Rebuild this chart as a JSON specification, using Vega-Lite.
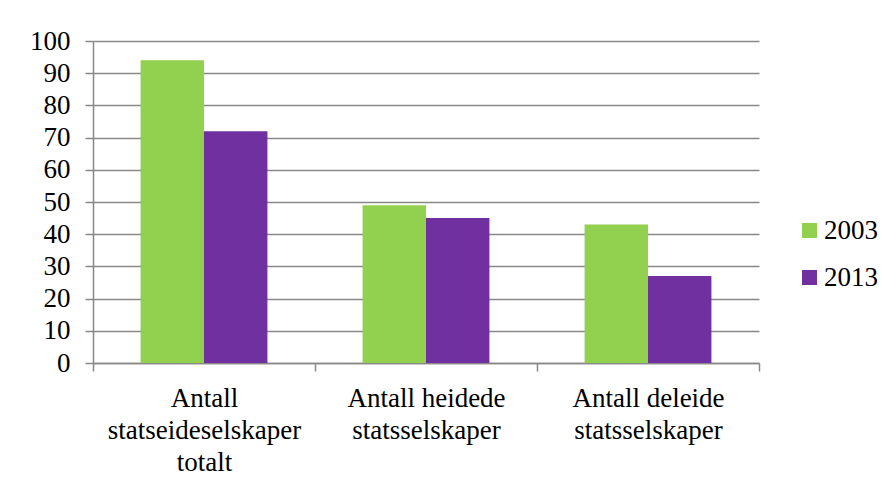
{
  "$schema": "https://vega.github.io/schema/vega-lite/v6.json",
  "width": 666,
  "height": 322,
  "autosize": {"type": "none"},
  "padding": {"left": 93, "top": 41, "right": 137, "bottom": 121},
  "background": "white",
  "config": {
    "view": {"stroke": null},
    "font": "Liberation Serif",
    "axis": {
      "domainColor": "#888888",
      "domainWidth": 1.5,
      "tickColor": "#888888",
      "tickWidth": 1.5,
      "gridColor": "#888888",
      "gridWidth": 1.5,
      "labelFont": "Liberation Serif",
      "labelFontSize": 27,
      "labelColor": "#000000"
    }
  },
  "data": {
    "values": [
      {"kategori": "Antall statseideselskaper totalt", "aar": "2003", "antall": 94},
      {"kategori": "Antall statseideselskaper totalt", "aar": "2013", "antall": 72},
      {"kategori": "Antall heidede statsselskaper", "aar": "2003", "antall": 49},
      {"kategori": "Antall heidede statsselskaper", "aar": "2013", "antall": 45},
      {"kategori": "Antall deleide statsselskaper", "aar": "2003", "antall": 43},
      {"kategori": "Antall deleide statsselskaper", "aar": "2013", "antall": 27}
    ]
  },
  "mark": {"type": "bar"},
  "encoding": {
    "x": {
      "field": "kategori",
      "type": "nominal",
      "sort": null,
      "scale": {"paddingInner": 0, "paddingOuter": 0},
      "axis": {
        "title": null,
        "labelAngle": 0,
        "tickBand": "extent",
        "tickSize": 8,
        "labelPadding": 14,
        "labelLimit": 400,
        "labelLineHeight": 32,
        "labelExpr": "datum.label == 'Antall statseideselskaper totalt' ? ['Antall', 'statseideselskaper', 'totalt'] : datum.label == 'Antall heidede statsselskaper' ? ['Antall heidede', 'statsselskaper'] : datum.label == 'Antall deleide statsselskaper' ? ['Antall deleide', 'statsselskaper'] : ''"
      }
    },
    "xOffset": {
      "field": "aar",
      "type": "nominal",
      "scale": {"paddingInner": 0, "paddingOuter": 0.75}
    },
    "y": {
      "field": "antall",
      "type": "quantitative",
      "scale": {"domain": [0, 100], "nice": false},
      "axis": {
        "title": null,
        "values": [0, 10, 20, 30, 40, 50, 60, 70, 80, 90, 100],
        "tickSize": 8,
        "labelPadding": 15,
        "grid": true
      }
    },
    "color": {
      "field": "aar",
      "type": "nominal",
      "scale": {"domain": ["2003", "2013"], "range": ["#92D050", "#7030A0"]},
      "legend": {
        "title": null,
        "orient": "none",
        "legendX": 703,
        "legendY": 176,
        "padding": 0,
        "symbolType": "square",
        "symbolSize": 225,
        "symbolStrokeWidth": 0,
        "symbolOpacity": 1,
        "labelFont": "Liberation Serif",
        "labelFontSize": 27,
        "labelColor": "#000000",
        "labelOffset": 1,
        "rowPadding": 19
      }
    }
  }
}
